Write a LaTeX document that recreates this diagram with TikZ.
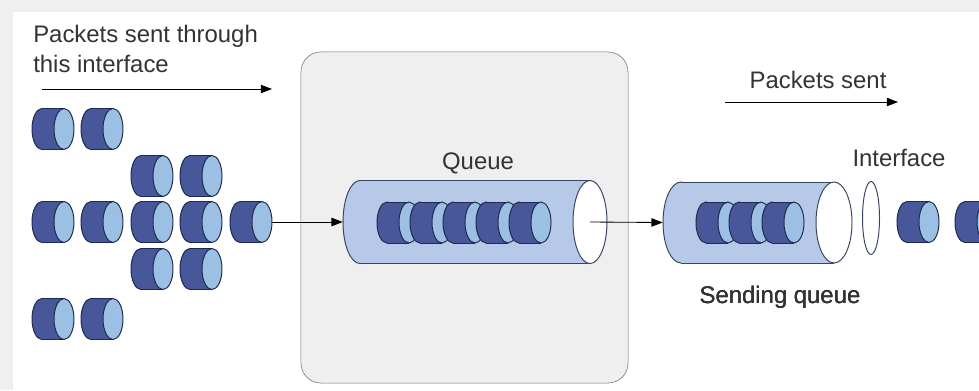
\documentclass[tikz,border=0pt]{standalone}
\usepackage{fontspec}
\setmainfont{Liberation Sans}
\usetikzlibrary{shapes.geometric,arrows.meta}

\definecolor{pktdark}{HTML}{47579A}
\definecolor{pktlight}{HTML}{9CC0E4}
\definecolor{pktline}{HTML}{1F2B4E}
\definecolor{tubefill}{HTML}{B6C9E8}
\definecolor{tubeline}{HTML}{3A4560}
\definecolor{boxfill}{HTML}{EFEFEF}
\definecolor{txt}{HTML}{333333}

% a packet: name, x, y (face on the right)
\newcommand{\packet}[3]{%
  \node[pktbox] (#1) at (#2,#3) {};
  \filldraw[fill=pktdark, draw=pktline, line width=0.7pt] (#2-11,#3) ellipse [x radius=10, y radius=20.5];
  \fill[pktdark] (#2-11,#3-20.5) rectangle (#2+11,#3+20.5);
  \draw[pktline, line width=0.7pt] (#2-11,#3-20.5) -- (#2+11,#3-20.5) (#2-11,#3+20.5) -- (#2+11,#3+20.5);
  \filldraw[fill=pktlight, draw=pktline, line width=0.7pt] (#2+11,#3) ellipse [x radius=10, y radius=20.5];
}
% a tube lying on its side: name, left x, right x, y, x radius, y radius
\newcommand{\tube}[6]{%
  \node[inner sep=0pt, minimum width={(#3-#2)*0.025cm}, minimum height={2*#6*0.025cm}] (#1) at ({(#2+#3)/2},#4) {};
  \filldraw[fill=tubefill, draw=tubeline, line width=0.7pt] (#2+#5,#4) ellipse [x radius=#5, y radius=#6];
  \fill[tubefill] (#2+#5,#4-#6) rectangle (#3-#5,#4+#6);
  \draw[tubeline, line width=0.7pt] (#2+#5,#4-#6) -- (#3-#5,#4-#6) (#2+#5,#4+#6) -- (#3-#5,#4+#6);
  \filldraw[fill=white, draw=tubeline, line width=0.7pt] (#3-#5,#4) ellipse [x radius=#5, y radius=#6];
}

\begin{document}
\begin{tikzpicture}[x=0.025cm, y=-0.025cm,
    pktbox/.style ={inner sep=0pt, minimum width=1.05cm, minimum height=1.025cm},
    label/.style ={text=txt, font=\fontsize{17}{21}\selectfont, inner sep=0pt},
    flow/.style ={-{Triangle[length=8pt,width=6pt]}, line width=0.6pt, black}]
   % page and grey frame
   \fill[boxfill] (0,0) rectangle (979,390);
   \fill[white] (13,12) rectangle (979,390);
   \clip (0,0) rectangle (979,390);

   \node[label, align=left, anchor=north west] (title) at (33,25)
     {Packets sent through\\this interface};
   \coordinate (in1) at (42,89);
   \coordinate (in2) at (272,89);
   \draw[flow] (in1) -- (in2);

   % incoming packets
   \packet{p11}{53}{129}
   \packet{p12}{102}{129}
   \packet{p21}{152}{176}
   \packet{p22}{201}{176}
   \packet{p31}{53}{222}
   \packet{p32}{102}{222}
   \packet{p33}{152}{222}
   \packet{p34}{201}{222}
   \packet{p35}{251}{222}
   \packet{p41}{152}{269}
   \packet{p42}{201}{269}
   \packet{p51}{53}{319}
   \packet{p52}{102}{319}

   % queue box
   \node[draw=black!55, fill=boxfill, rounded corners=0.5cm,
     minimum width=8.175cm, minimum height=8.275cm] (box) at (464.5,217.5) {};
   \node[label] (qlabel) at (478,163) {Queue};
   \tube{queue}{343}{607}{222}{17}{41.5}
   \foreach \x in {398,431,464,497,530}
     \packet{q\x}{\x}{222.5}
   \coordinate (qout) at (590,222);

   \draw[flow] (p35.east) -- (queue.west);

   % sending queue
   \tube{sendq}{663}{852}{222.5}{18}{40.5}
   \foreach \x in {717,750,783}
     \packet{s\x}{\x}{222.5}
   \node[label] (slabel) at (780,297) {Sending queue};
   \draw[flow] (qout) -- (sendq.west);

   \node[label] (sent) at (818,80) {Packets sent};
   \coordinate (out1) at (725,102);
   \coordinate (out2) at (898,102);
   \draw[flow] (out1) -- (out2);

   % interface and packets leaving
   \node[label] (ilabel) at (899,158) {Interface};
   \node[ellipse, draw=tubeline, line width=0.7pt, fill=white, inner sep=0pt,
     minimum width=0.425cm, minimum height=1.825cm] (iface) at (871,218) {};
   \packet{o1}{918}{222}
   \packet{o2}{976}{222}
 \end{tikzpicture}
\end{document}
